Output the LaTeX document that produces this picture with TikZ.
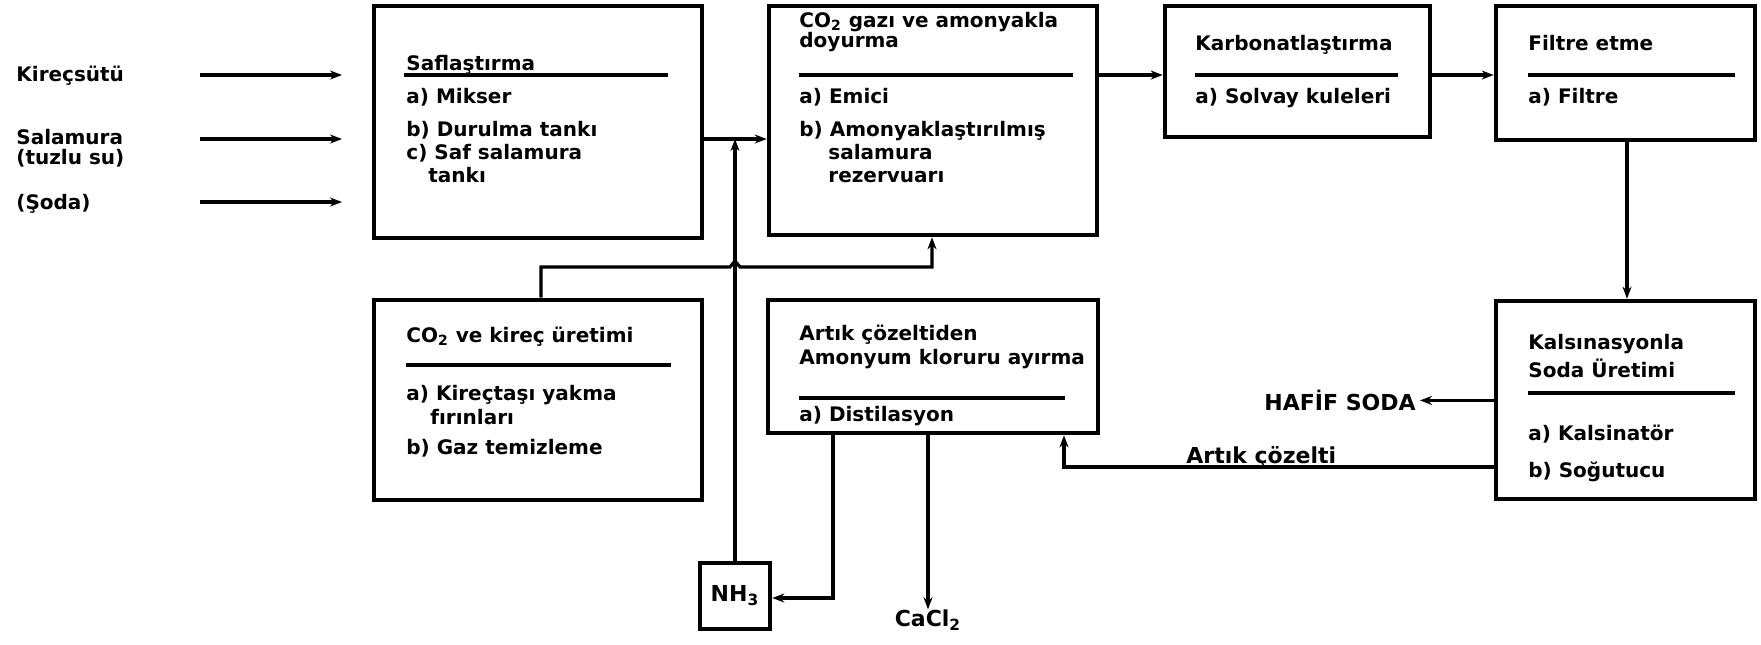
\documentclass[tikz,border=0pt]{standalone}
\usepackage{fontspec}
\setmainfont{DejaVu Sans}
\usetikzlibrary{arrows.meta,fit}
\begin{document}
\begin{tikzpicture}[x=0.5pt,y=-0.5pt,
  box/.style={draw, line width=2.3pt, inner sep=0pt},
  conn/.style={line width=1.6pt},
  arr/.style={conn, -{Stealth[length=6pt,width=4.5pt]}},
  txt/.style={anchor=mid west, inner sep=0pt, font=\fontsize{10}{11}\selectfont\bfseries},
  big/.style={inner sep=0pt, font=\fontsize{11}{12}\selectfont\bfseries},
  rule/.style={line width=2pt}]
\useasboundingbox (0,0) rectangle (1761,644);

% boxes
\node[box, fit={(374,6) (702,238)}] (saf) {};
\node[box, fit={(769,6) (1097,235)}] (co2) {};
\node[box, fit={(1165,6) (1430,137)}] (karb) {};
\node[box, fit={(1496,6) (1755,140)}] (filt) {};
\node[box, fit={(374,300) (702,500)}] (kirec) {};
\node[box, fit={(768,300) (1098,433)}] (artik) {};
\node[box, fit={(1496,301) (1755,499)}] (kals) {};
\node[box, fit={(700,563) (770,629)}] (nh3) {};
\node[big, anchor=center] (nh3t) at (nh3.center) {NH\textsubscript{3}};

% left inputs
\node[txt] (l1) at (16,76) {Kireçsütü};
\node[txt] (l2) at (16,139) {Salamura};
\node[txt] (l2b) at (16,159) {(tuzlu su)};
\node[txt] (l3) at (16,204) {(Şoda)};
\coordinate (a1) at (200,75);  \coordinate (b1) at (342,75);
\coordinate (a2) at (200,139); \coordinate (b2) at (342,139);
\coordinate (a3) at (200,202); \coordinate (b3) at (342,202);
\draw[arr] (a1) -- (b1);
\draw[arr] (a2) -- (b2);
\draw[arr] (a3) -- (b3);

% Saflastirma
\node[txt] (s0) at (406,65) {Saflaştırma};
\draw[rule] (404,75) -- (668,75);
\node[txt] (s1) at (406,98) {a) Mikser};
\node[txt] (s2) at (406,131) {b) Durulma tankı};
\node[txt] (s3) at (406,154) {c) Saf salamura};
\node[txt] (s4) at (428,177) {tankı};

% CO2 gazi
\node[txt] (c0) at (799,22) {CO\textsubscript{2} gazı ve amonyakla};
\node[txt] (c0b) at (799,42) {doyurma};
\draw[rule] (799,75) -- (1073,75);
\node[txt] (c1) at (799,98) {a) Emici};
\node[txt] (c2) at (799,131) {b) Amonyaklaştırılmış};
\node[txt] (c3) at (828,154) {salamura};
\node[txt] (c4) at (828,177) {rezervuarı};

% Karbonat
\node[txt] (k0) at (1195,45) {Karbonatlaştırma};
\draw[rule] (1195,75) -- (1398,75);
\node[txt] (k1) at (1195,98) {a) Solvay kuleleri};

% Filtre
\node[txt] (f0) at (1528,45) {Filtre etme};
\draw[rule] (1528,75) -- (1735,75);
\node[txt] (f1) at (1528,98) {a) Filtre};

% CO2 ve kirec
\node[txt] (r0) at (406,337) {CO\textsubscript{2} ve kireç üretimi};
\draw[rule] (406,365) -- (671,365);
\node[txt] (r1) at (406,395) {a) Kireçtaşı yakma};
\node[txt] (r2) at (430,419) {fırınları};
\node[txt] (r3) at (406,449) {b) Gaz temizleme};

% Artik
\node[txt] (t0) at (799,335) {Artık çözeltiden};
\node[txt] (t0b) at (799,359) {Amonyum kloruru ayırma};
\draw[rule] (799,398) -- (1065,398);
\node[txt] (t1) at (799,416) {a) Distilasyon};

% Kalsinasyon
\node[txt] (m0) at (1528,344) {Kalsınasyonla};
\node[txt] (m0b) at (1528,372) {Soda Üretimi};
\draw[rule] (1528,393) -- (1735,393);
\node[txt] (m1) at (1528,435) {a) Kalsinatör};
\node[txt] (m2) at (1528,472) {b) Soğutucu};

% outputs
\node[big, anchor=center] (cacl) at (928,620) {CaCl\textsubscript{2}};
\node[big, anchor=mid east] (hafif) at (1416,405) {HAFİF SODA};
\node[big, anchor=base west] (artc) at (1186,463) {Artık çözelti};

% connectors
\draw[arr] (co2.east |- 0,75) -- (karb.west |- 0,75);
\draw[arr] (karb.east |- 0,75) -- (filt.west |- 0,75);
\coordinate (j1) at (735,139);
\draw[arr] (saf.east |- j1) -- (co2.west |- j1);
\draw[arr] (nh3.north) -- (j1);
\coordinate (k1c) at (541,267);
\coordinate (k2c) at (932,267);
\draw[arr] (kirec.north -| k1c) -- (k1c) -- (730,267) -- (735,261) -- (740,267) -- (k2c) -- (co2.south -| k2c);
\coordinate (n1) at (833,598);
\draw[arr] (artik.south -| n1) -- (n1) -- (nh3.east |- n1);
\draw[arr] (artik.south -| cacl) -- (cacl.north);
\draw[arr] (filt.south -| 1627,0) -- (kals.north -| 1627,0);
\draw[arr] (kals.west |- hafif) -- ([xshift=2pt]hafif.east);
\coordinate (q1) at (1064,467);
\draw[arr] (kals.west |- q1) -- (q1) -- (artik.south -| q1);
\end{tikzpicture}
\end{document}
